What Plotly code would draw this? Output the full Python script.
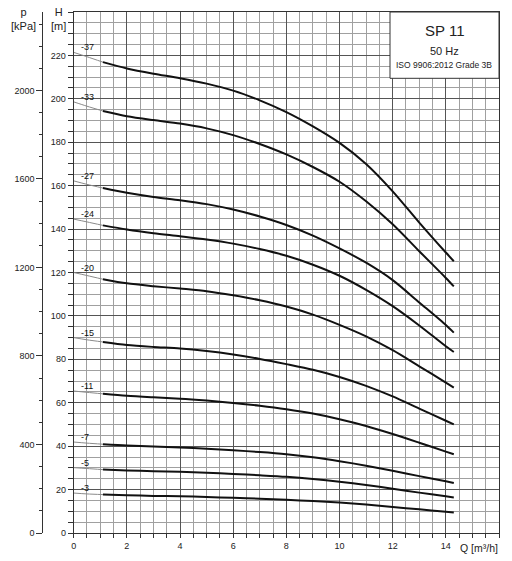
import plotly.graph_objects as go

# Flow points (m3/h)
Q = [0, 0.5, 1.1, 2, 3, 4, 5, 6, 7, 8, 9, 10, 11, 12, 13, 14, 14.3]
THIN_END = 3  # first 3 points drawn as thin grey segment

# Head (m) per pump model
H_37 = [221.4, 219.4, 216.9, 214.0, 211.6, 209.5, 207.0, 203.8, 199.3, 193.9, 187.3, 179.7, 170.0, 157.4, 143.0, 129.2, 125.2]
H_33 = [198.6, 196.6, 194.4, 192.0, 190.2, 188.6, 186.4, 183.3, 179.2, 174.4, 168.6, 161.8, 152.8, 142.2, 129.8, 117.5, 113.6]
H_27 = [162.2, 160.6, 158.9, 156.7, 154.8, 153.3, 151.5, 149.0, 145.8, 141.9, 137.0, 131.1, 124.5, 116.5, 106.2, 95.8, 92.3]
H_24 = [144.6, 143.3, 141.7, 139.8, 138.1, 136.7, 135.2, 133.3, 130.8, 127.7, 123.6, 118.5, 112.0, 104.5, 95.6, 86.0, 83.4]
H_20 = [120.0, 118.6, 116.9, 115.0, 113.7, 112.6, 111.4, 109.5, 107.2, 104.3, 100.6, 95.9, 90.6, 84.2, 76.8, 69.3, 67.0]
H_15 = [90.0, 89.0, 88.0, 86.6, 85.7, 85.0, 83.8, 82.2, 80.2, 77.8, 75.2, 71.9, 67.8, 62.9, 57.3, 51.7, 50.0]
H_11 = [65.4, 64.8, 64.1, 63.2, 62.5, 61.9, 61.0, 59.9, 58.6, 57.0, 55.0, 52.4, 49.3, 45.6, 41.6, 37.5, 36.3]
H_7 = [41.9, 41.4, 40.9, 40.3, 39.9, 39.4, 38.8, 38.1, 37.3, 36.3, 34.9, 33.1, 31.0, 28.7, 26.2, 23.8, 23.0]
H_5 = [30.1, 29.7, 29.2, 28.8, 28.5, 28.2, 27.8, 27.2, 26.6, 25.9, 24.9, 23.6, 22.1, 20.4, 18.6, 16.9, 16.4]
H_3 = [18.4, 18.0, 17.7, 17.4, 17.1, 16.9, 16.6, 16.2, 15.8, 15.3, 14.7, 14.0, 13.1, 12.0, 10.9, 9.8, 9.5]

models = ["-37", "-33", "-27", "-24", "-20", "-15", "-11", "-7", "-5", "-3"]
heads = [H_37, H_33, H_27, H_24, H_20, H_15, H_11, H_7, H_5, H_3]

x_ticks = [0, 2, 4, 6, 8, 10, 12, 14]
h_ticks = [0, 20, 40, 60, 80, 100, 120, 140, 160, 180, 200, 220]
p_ticks = [0, 400, 800, 1200, 1600, 2000]
H_MAX = 240
Q_MAX = 16
KPA_PER_M = 9.81

title_lines = ["SP 11", "50 Hz", "ISO 9906:2012 Grade 3B"]

FONT = "Liberation Sans, Arial, sans-serif"

fig = go.Figure()
for name, h in zip(models, heads):
    fig.add_trace(go.Scatter(x=Q[:THIN_END], y=h[:THIN_END], mode="lines",
                             line=dict(color="#8a8a8a", width=1, shape="spline", smoothing=0.8),
                             showlegend=False, hoverinfo="skip"))
    fig.add_trace(go.Scatter(x=Q[THIN_END - 1:], y=h[THIN_END - 1:], mode="lines",
                             line=dict(color="#111111", width=2, shape="spline", smoothing=0.8),
                             name=name, showlegend=False))
    fig.add_annotation(x=Q[0], y=h[0], text=name, showarrow=False,
                       xanchor="left", yanchor="bottom", xshift=5, yshift=-2,
                       font=dict(family=FONT, size=9, color="#111"))

# dummy trace for the pressure axis
fig.add_trace(go.Scatter(x=[0], y=[0], yaxis="y2", mode="markers",
                         marker=dict(opacity=0), showlegend=False, hoverinfo="skip"))

L, R, T, B = 5, 13, 12, 28
W, Hh = 512, 561
pw = W - L - R
ph = Hh - T - B
x_dom0 = (73.7 - L) / pw
p_pos = (42.3 - L) / pw

fig.update_layout(
    width=W, height=Hh,
    margin=dict(l=L, r=R, t=T, b=B, autoexpand=False),
    paper_bgcolor="white", plot_bgcolor="white",
    font=dict(family=FONT, size=9, color="#222"),
    xaxis=dict(domain=[x_dom0, 1], range=[0, Q_MAX], tickvals=x_ticks,
               ticks="outside", ticklen=4, tickcolor="#333",
               showline=True, linecolor="#333", linewidth=1, mirror=True,
               showgrid=True, gridcolor="#555", gridwidth=1.2,
               minor=dict(dtick=0.5, showgrid=True, gridcolor="#a0a0a0", gridwidth=1,
                          ticks="outside", ticklen=4, tickcolor="#333"),
               zeroline=False, tickfont=dict(size=9)),
    yaxis=dict(range=[0, H_MAX], tickvals=h_ticks,
               ticks="outside", ticklen=5, tickcolor="#333",
               showline=True, linecolor="#333", linewidth=1, mirror=True,
               showgrid=True, gridcolor="#555", gridwidth=1.2,
               minor=dict(dtick=5, showgrid=True, gridcolor="#a0a0a0", gridwidth=1,
                          ticks="outside", ticklen=5, tickcolor="#333"),
               zeroline=False, tickfont=dict(size=9)),
    yaxis2=dict(range=[0, H_MAX * KPA_PER_M], tickvals=p_ticks, overlaying="y",
                anchor="free", position=p_pos, side="left",
                ticks="outside", ticklen=6, tickcolor="#333",
                showline=True, linecolor="#333", linewidth=1,
                showgrid=False, zeroline=False,
                minor=dict(dtick=100, ticks="outside", ticklen=3, tickcolor="#333"),
                tickfont=dict(size=9)),
)

def px_x(px):
    return (px - L) / pw

def py_y(py):
    return 1 - (py - T) / ph

fig.add_annotation(xref="paper", yref="paper", x=px_x(23), y=py_y(19.5),
                   text="p<br>[kPa]", showarrow=False, xanchor="center", yanchor="middle",
                   font=dict(family=FONT, size=11, color="#222"))
fig.add_annotation(xref="paper", yref="paper", x=px_x(58), y=py_y(19.5),
                   text="H<br>[m]", showarrow=False, xanchor="center", yanchor="middle",
                   font=dict(family=FONT, size=11, color="#222"))
fig.add_annotation(xref="paper", yref="paper", x=px_x(479), y=py_y(547.7),
                   text="Q [m³/h]", showarrow=False, xanchor="center", yanchor="middle",
                   font=dict(family=FONT, size=10.5, color="#222"))

# title box
fig.add_shape(type="rect", xref="paper", yref="paper",
              x0=px_x(390), x1=1, y0=py_y(78.3), y1=1,
              fillcolor="white", line=dict(color="#333", width=1), layer="above")
for txt, py, size in zip(title_lines, [30.7, 50.7, 65], [15, 11, 8.5]):
    fig.add_annotation(xref="paper", yref="paper", x=px_x(444), y=py_y(py), text=txt,
                       showarrow=False, xanchor="center", yanchor="middle",
                       font=dict(family=FONT, size=size, color="#222"))

fig.write_html("out.html", config={"displayModeBar": False},
               post_script="document.body.style.margin='0';document.body.style.overflow='hidden';")
